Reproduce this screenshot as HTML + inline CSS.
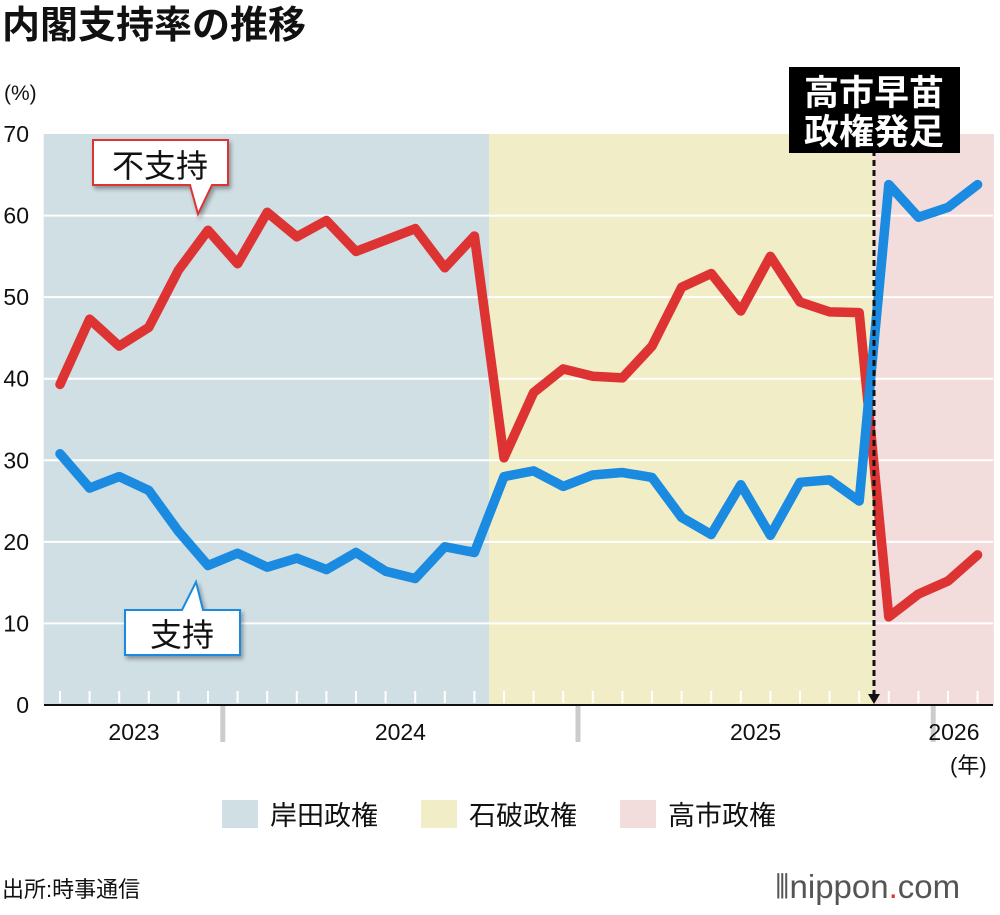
<!DOCTYPE html>
<html><head><meta charset="utf-8"><style>
body{margin:0;background:#fff;width:1000px;height:910px;overflow:hidden;font-family:"Liberation Sans","Noto Sans CJK JP",sans-serif;}
svg text{font-family:"Liberation Sans","Noto Sans CJK JP",sans-serif;}
</style></head><body>
<svg id="chart" width="1000" height="910" xmlns="http://www.w3.org/2000/svg">
<text x="2" y="38" font-size="38" font-weight="bold" fill="#111">内閣支持率の推移</text>
<text x="4" y="100" font-size="21" fill="#111">(%)</text>
<g id="bg"></g><g id="grid"></g><g id="ticks"></g><g id="lines"></g><g id="labels"></g>
<text x="950" y="773" font-size="22" fill="#111">(年)</text>
<g>
<rect x="222" y="800" width="36" height="28" fill="#cfdfe3"/><text x="270" y="825" font-size="27" fill="#111">岸田政権</text>
<rect x="421" y="800" width="36" height="28" fill="#f1edc6"/><text x="469" y="825" font-size="27" fill="#111">石破政権</text>
<rect x="620" y="800" width="36" height="28" fill="#f3dcdc"/><text x="668" y="825" font-size="27" fill="#111">高市政権</text>
</g>
<text x="2" y="897" font-size="22" fill="#111">出所:時事通信</text>
<text x="775" y="898" font-size="33" fill="#555">⦀nippon<tspan fill="#d33">.</tspan>com</text>
<g>
<path d="M93,140 H228 V185 H212 L198,214 L190,185 H93 Z" fill="#fff" stroke="#d33" stroke-width="2" style="filter:drop-shadow(2px 3px 2px rgba(0,0,0,.35))"/>
<text x="160" y="177" font-size="32" text-anchor="middle" fill="#111">不支持</text>
</g>
<g>
<path d="M125,610 H182 L196,582 L203,610 H240 V655 H125 Z" fill="#fff" stroke="#1a8be0" stroke-width="2" style="filter:drop-shadow(2px 3px 2px rgba(0,0,0,.35))"/>
<text x="182" y="646" font-size="32" text-anchor="middle" fill="#111">支持</text>
</g>
<line x1="874" y1="150" x2="874" y2="695" stroke="#111" stroke-width="3" stroke-dasharray="6,4"/>
<path d="M868,694 L880,694 L874,704 Z" fill="#111"/>
<g>
<rect x="789" y="67" width="171" height="86" fill="#000"/>
<text x="874" y="105" font-size="35" font-weight="bold" fill="#fff" text-anchor="middle">高市早苗</text>
<text x="874" y="144" font-size="35" font-weight="bold" fill="#fff" text-anchor="middle">政権発足</text>
</g>
</svg>
<script>
const approve=[30.8,26.6,28.0,26.3,21.3,17.1,18.6,16.9,18.0,16.6,18.7,16.4,15.5,19.4,18.7,28.0,28.7,26.8,28.2,28.5,27.9,23.0,20.9,27.0,20.8,27.3,27.6,25.0,63.8,59.8,61.0,63.8];
const disapprove=[39.3,47.3,44.0,46.3,53.3,58.2,54.1,60.4,57.4,59.4,55.6,57.0,58.4,53.6,57.5,30.3,38.3,41.2,40.3,40.1,44.0,51.2,52.9,48.3,55.0,49.4,48.2,48.1,10.8,13.6,15.2,18.4];
const yTicks=[0,10,20,30,40,50,60,70];
const years=["2023","2024","2025","2026"];
const yearLabelIdx=[2.5,11.5,23.5,30.2];
const yearBoundaryIdx=[5.5,17.5,29.5];
const eraNames=["kishida","ishiba","takaichi"];
const eraStartIdx=[-0.55,14.5,27.5];
const eraEndIdx=[14.5,27.5,31.55];
const eraColors=["#cfdfe3","#f1edc6","#f3dcdc"];
const NS="http://www.w3.org/2000/svg";
const x=i=>60+i*29.6;
const y=v=>705-v*8.157;
function el(tag,attrs,parent){const e=document.createElementNS(NS,tag);for(const k in attrs)e.setAttribute(k,attrs[k]);document.getElementById(parent).appendChild(e);return e;}
eraNames.forEach((n,k)=>{const r=el('rect',{x:x(eraStartIdx[k]),y:y(70),width:x(eraEndIdx[k])-x(eraStartIdx[k]),height:y(0)-y(70),fill:eraColors[k]},'bg');

});
yTicks.forEach(t=>{if(t>0&&t<70){const l=el('line',{x1:44,x2:993,y1:y(t),y2:y(t),stroke:'#fff','stroke-width':2},'grid');

}
const tx=el('text',{x:29,y:y(t)+8,'font-size':23,'text-anchor':'end',fill:'#111'},'labels');tx.textContent=t;

});
approve.forEach((v,i)=>{const l=el('line',{x1:x(i),x2:x(i),y1:691,y2:703,stroke:'#fff','stroke-width':2},'ticks');

});
const ax=el('line',{x1:44,x2:993,y1:705,y2:705,stroke:'#111','stroke-width':2},'ticks');


yearBoundaryIdx.forEach(b=>{const l=el('line',{x1:x(b),x2:x(b),y1:706,y2:742,stroke:'#ccc','stroke-width':5},'ticks');

});
years.forEach((yr,k)=>{const t=el('text',{x:x(yearLabelIdx[k]),y:740,'font-size':23,'text-anchor':'middle',fill:'#111'},'labels');t.textContent=yr;

});
function line(data,color,name){const p=el('polyline',{points:data.map((v,i)=>x(i)+','+y(v)).join(' '),fill:'none',stroke:color,'stroke-width':9.5,'stroke-linejoin':'round','stroke-linecap':'round'},'lines');

}
line(disapprove,'#dd3333','disapproval-line');
line(approve,'#1a8be0','approval-line');
</script>
</body></html>
